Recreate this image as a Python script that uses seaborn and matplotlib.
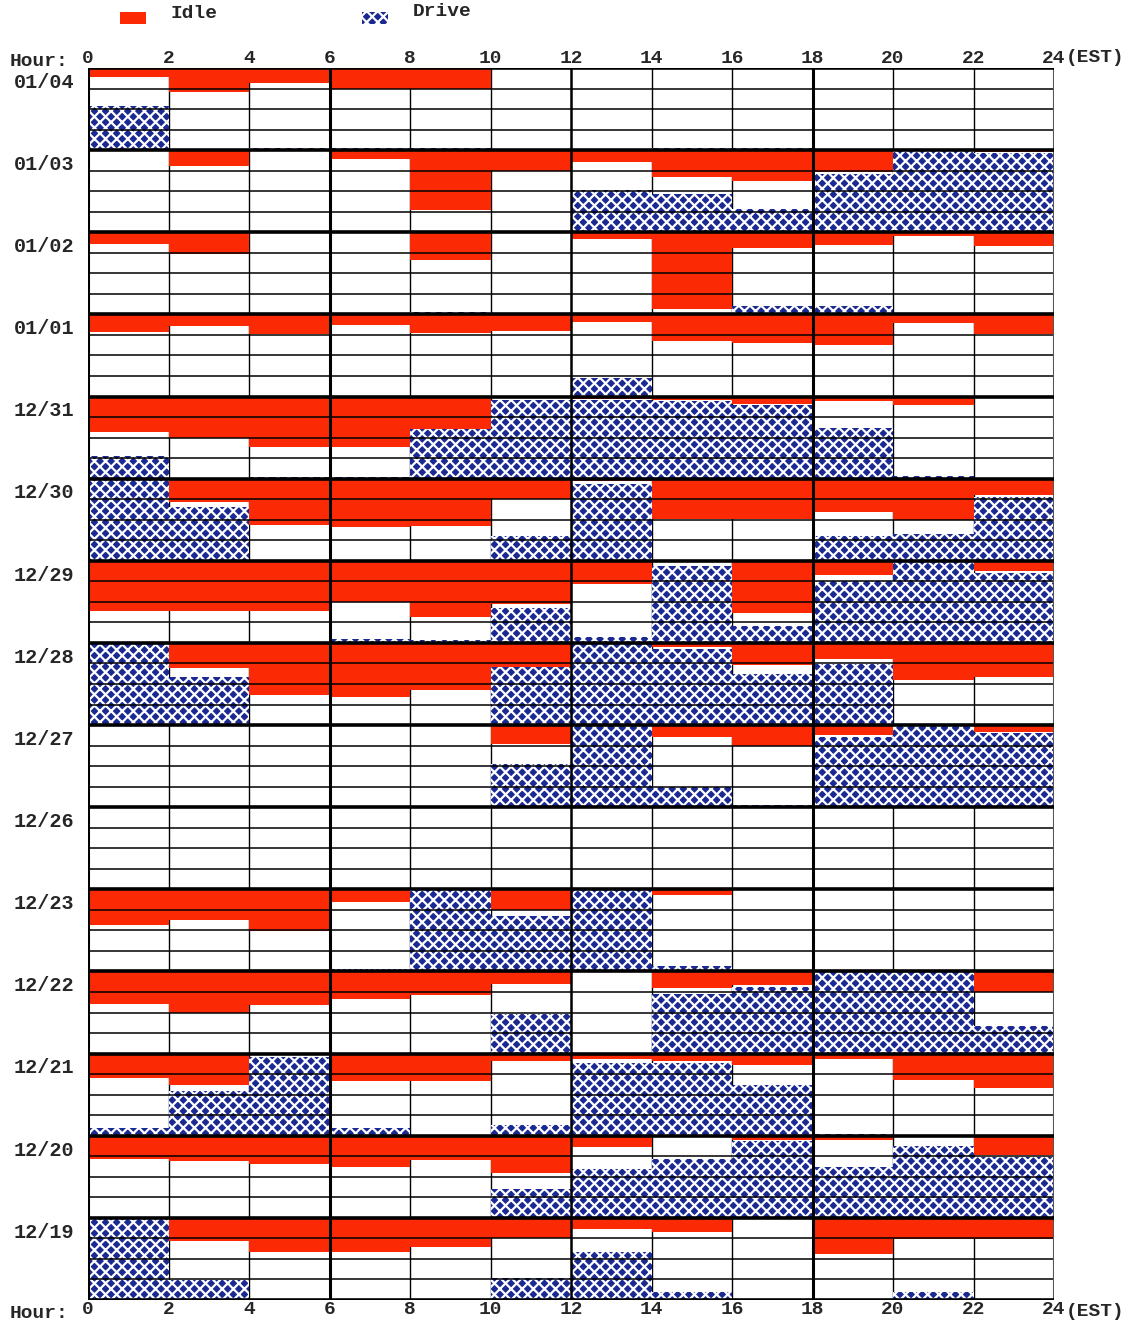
import matplotlib
matplotlib.use("Agg")
import matplotlib.pyplot as plt
import seaborn as sns
import pandas as pd
from matplotlib.patches import Rectangle

# ---------------- data (fraction of each 2-hour block) ----------------
dates = ["01/04", "01/03", "01/02", "01/01", "12/31", "12/30", "12/29", "12/28",
         "12/27", "12/26", "12/23", "12/22", "12/21", "12/20", "12/19"]
block_start = [0, 2, 4, 6, 8, 10, 12, 14, 16, 18, 20, 22]
hour_ticks = [0, 2, 4, 6, 8, 10, 12, 14, 16, 18, 20, 22, 24]

idle_0104 = [0.11, 0.29, 0.18, 0.25, 0.25, 0.00, 0.00, 0.00, 0.00, 0.00, 0.00, 0.00]
drive_0104 = [0.54, 0.00, 0.03, 0.03, 0.03, 0.00, 0.00, 0.02, 0.02, 0.00, 0.00, 0.00]
idle_0103 = [0.00, 0.19, 0.00, 0.11, 0.73, 0.25, 0.14, 0.33, 0.38, 0.27, 0.00, 0.02]
drive_0103 = [0.00, 0.00, 0.00, 0.00, 0.00, 0.00, 0.52, 0.46, 0.28, 0.71, 1.00, 0.97]
idle_0102 = [0.14, 0.27, 0.00, 0.00, 0.34, 0.00, 0.08, 0.93, 0.19, 0.16, 0.04, 0.17]
drive_0102 = [0.00, 0.00, 0.00, 0.00, 0.03, 0.00, 0.02, 0.02, 0.10, 0.10, 0.00, 0.00]
idle_0101 = [0.22, 0.14, 0.24, 0.13, 0.23, 0.20, 0.09, 0.32, 0.35, 0.37, 0.11, 0.24]
drive_0101 = [0.00, 0.00, 0.00, 0.00, 0.00, 0.00, 0.23, 0.00, 0.00, 0.00, 0.00, 0.00]
idle_1231 = [0.43, 0.51, 0.62, 0.61, 0.39, 0.02, 0.03, 0.04, 0.09, 0.05, 0.10, 0.01]
drive_1231 = [0.27, 0.00, 0.02, 0.02, 0.60, 0.96, 0.96, 0.94, 0.90, 0.62, 0.03, 0.00]
idle_1230 = [0.00, 0.29, 0.56, 0.59, 0.58, 0.25, 0.03, 0.49, 0.49, 0.41, 0.50, 0.20]
drive_1230 = [1.00, 0.65, 0.00, 0.00, 0.00, 0.30, 0.93, 0.00, 0.00, 0.30, 0.33, 0.78]
idle_1229 = [0.61, 0.61, 0.61, 0.50, 0.69, 0.52, 0.28, 0.00, 0.64, 0.17, 0.00, 0.12]
drive_1229 = [0.00, 0.00, 0.00, 0.05, 0.04, 0.43, 0.07, 0.94, 0.21, 0.75, 1.00, 0.85]
idle_1228 = [0.00, 0.31, 0.64, 0.66, 0.57, 0.29, 0.00, 0.05, 0.27, 0.20, 0.45, 0.41]
drive_1228 = [1.00, 0.59, 0.00, 0.00, 0.00, 0.71, 0.99, 0.93, 0.62, 0.74, 0.00, 0.00]
idle_1227 = [0.00, 0.00, 0.00, 0.00, 0.00, 0.23, 0.00, 0.14, 0.26, 0.12, 0.00, 0.08]
drive_1227 = [0.00, 0.00, 0.00, 0.00, 0.00, 0.52, 1.00, 0.24, 0.03, 0.86, 0.99, 0.90]
idle_1226 = [0.00, 0.00, 0.00, 0.00, 0.00, 0.00, 0.00, 0.00, 0.00, 0.00, 0.00, 0.00]
drive_1226 = [0.00, 0.00, 0.00, 0.00, 0.00, 0.00, 0.00, 0.00, 0.00, 0.00, 0.00, 0.00]
idle_1223 = [0.44, 0.37, 0.51, 0.15, 0.00, 0.25, 0.00, 0.07, 0.00, 0.00, 0.00, 0.00]
drive_1223 = [0.00, 0.00, 0.00, 0.03, 0.99, 0.67, 1.00, 0.07, 0.00, 0.00, 0.00, 0.00]
idle_1222 = [0.40, 0.50, 0.41, 0.33, 0.29, 0.15, 0.00, 0.20, 0.17, 0.00, 0.00, 0.25]
drive_1222 = [0.00, 0.00, 0.00, 0.00, 0.00, 0.48, 0.00, 0.73, 0.81, 1.00, 0.99, 0.33]
idle_1221 = [0.30, 0.38, 0.00, 0.33, 0.33, 0.09, 0.07, 0.09, 0.14, 0.07, 0.32, 0.42]
drive_1221 = [0.10, 0.54, 0.96, 0.10, 0.00, 0.13, 0.88, 0.88, 0.62, 0.02, 0.00, 0.00]
idle_1220 = [0.28, 0.31, 0.35, 0.38, 0.29, 0.45, 0.14, 0.00, 0.05, 0.05, 0.01, 0.24]
drive_1220 = [0.00, 0.00, 0.00, 0.00, 0.00, 0.35, 0.60, 0.72, 0.93, 0.62, 0.88, 0.74]
idle_1219 = [0.00, 0.28, 0.42, 0.42, 0.36, 0.25, 0.13, 0.17, 0.00, 0.44, 0.26, 0.26]
drive_1219 = [1.00, 0.24, 0.00, 0.00, 0.00, 0.27, 0.58, 0.10, 0.00, 0.00, 0.10, 0.00]

idle_rows = [idle_0104, idle_0103, idle_0102, idle_0101, idle_1231, idle_1230, idle_1229,
             idle_1228, idle_1227, idle_1226, idle_1223, idle_1222, idle_1221, idle_1220, idle_1219]
drive_rows = [drive_0104, drive_0103, drive_0102, drive_0101, drive_1231, drive_1230, drive_1229,
              drive_1228, drive_1227, drive_1226, drive_1223, drive_1222, drive_1221, drive_1220, drive_1219]

records = []
for i, d in enumerate(dates):
    for j, h in enumerate(block_start):
        records.append({"date": d, "row": i, "hour": h,
                        "idle": idle_rows[i][j], "drive": drive_rows[i][j]})
df = pd.DataFrame(records)

# ---------------- styling ----------------
sns.set_theme(style="white")
plt.rcParams["font.family"] = ["Liberation Mono", "DejaVu Sans Mono"]
plt.rcParams["font.weight"] = "bold"
plt.rcParams["hatch.linewidth"] = 1.6

RED = "#fb2a05"
NAVY = "#1b2a92"
W, H = 1132, 1324
N = len(dates)
FS = 14

fig = plt.figure(figsize=(W / 100, H / 100), dpi=100)
fig.patch.set_facecolor("white")
ax = fig.add_axes([88 / W, 1 - 1300 / H, (1054 - 88) / W, (1300 - 68) / H])
ax.set_xlim(0, 24)
ax.set_ylim(0, N)

row_top = N - df["row"]
# Idle bars hang down from the top of each day row
ax.bar(df["hour"], df["idle"], width=2, bottom=row_top - df["idle"], align="edge",
       color=RED, linewidth=0, zorder=2)
# Drive bars rise from the bottom of each day row
ax.bar(df["hour"], df["drive"], width=2, bottom=row_top - 1, align="edge",
       facecolor=NAVY, edgecolor="white", hatch="xxx", linewidth=0, zorder=2)

# grid: thin 2-hour verticals under bars, heavier 6-hour ones on top
for h in hour_ticks:
    if h in (0, 6, 12, 18):
        ax.axvline(h, color="black", lw=2.2 if h != 12 else 1.8, zorder=4)
    else:
        ax.axvline(h, color="black", lw=1.0, zorder=1)
ax.axvline(24, color="#555555", lw=1.5, zorder=4)
for k in range(N):
    for q in (0.25, 0.5, 0.75):
        ax.axhline(k + q, color="black", lw=1.1, zorder=3)
for k in range(N + 1):
    ax.axhline(k, color="black", lw=2.6, zorder=4)

for s in ax.spines.values():
    s.set_visible(False)

# hour tick labels, top and bottom
ax.set_xticks(hour_ticks)
ax.set_xticklabels([str(h) for h in hour_ticks])
ax.tick_params(axis="x", which="both", length=0, top=True, labeltop=True,
               bottom=True, labelbottom=True, pad=1, labelsize=FS)
# day labels near the top of each row
ax.set_yticks([N - i - 0.15 for i in range(N)])
ax.set_yticklabels(dates)
ax.tick_params(axis="y", length=0, pad=10, labelsize=FS + 0.5)

fig.text(10 / W, 1 - 61 / H, "Hour:", fontsize=FS, fontweight="bold", va="center", ha="left")
fig.text(10 / W, 1 - 1313 / H, "Hour:", fontsize=FS, fontweight="bold", va="center", ha="left")
fig.text(1066 / W, 1 - 58 / H, "(EST)", fontsize=FS, fontweight="bold", va="center", ha="left")
fig.text(1066 / W, 1 - 1311 / H, "(EST)", fontsize=FS, fontweight="bold", va="center", ha="left")

# legend
fig.patches.append(Rectangle((120 / W, 1 - 24 / H), 26 / W, 12 / H, transform=fig.transFigure,
                             facecolor=RED, linewidth=0))
fig.text(170 / W, 1 - 13 / H, "Idle", fontsize=FS, fontweight="bold", va="center", ha="left")
fig.patches.append(Rectangle((362 / W, 1 - 24 / H), 26 / W, 12 / H, transform=fig.transFigure,
                             facecolor=NAVY, edgecolor="white", hatch="xxx", linewidth=0))
fig.text(413 / W, 1 - 12 / H, "Drive", fontsize=FS, fontweight="bold", va="center", ha="left")

fig.savefig("out.png", dpi=100, facecolor="white")
